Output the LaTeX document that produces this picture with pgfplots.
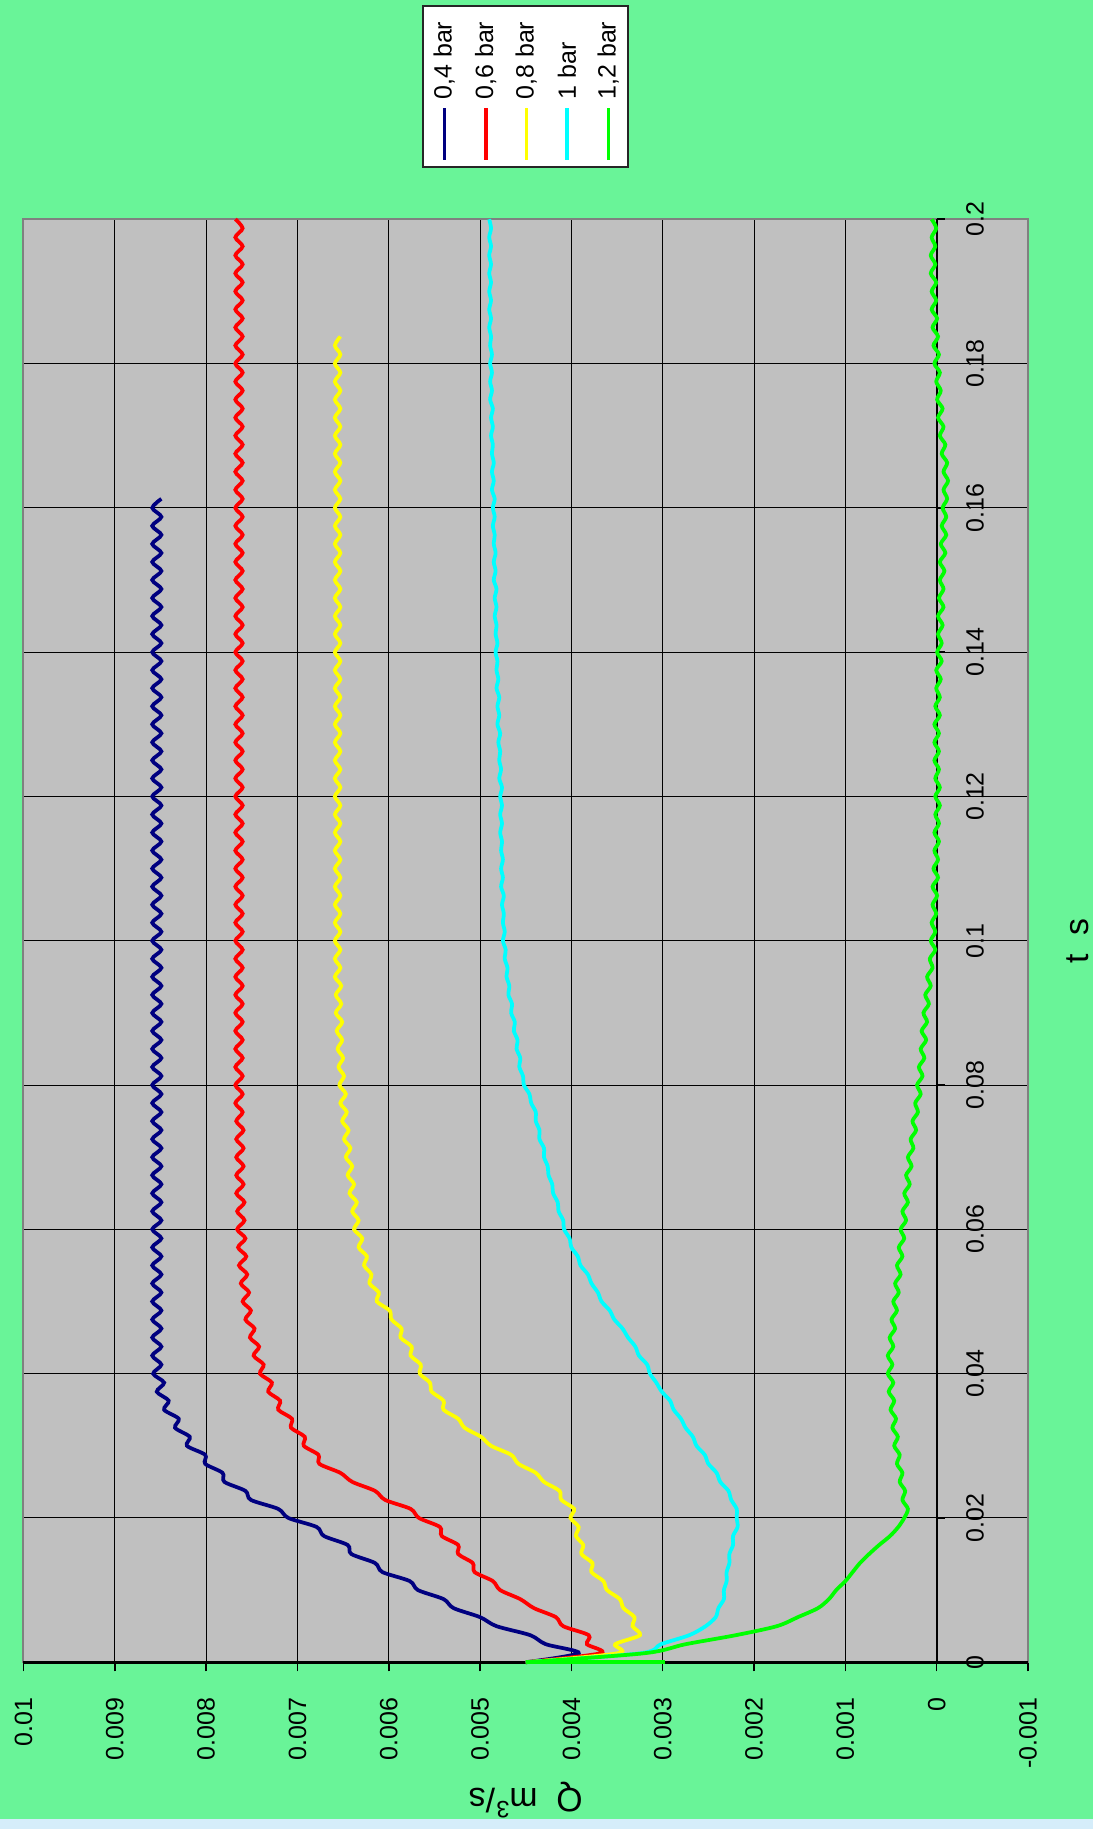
\documentclass[border=0pt]{standalone}
\usepackage{pgfplots}
\pgfplotsset{compat=1.18}
\usepackage{pgfplotstable}
\usepackage{fontspec}
\setmainfont{Liberation Sans}

\definecolor{bggreen}{RGB}{105,244,152}
\definecolor{stripblue}{RGB}{213,237,250}
\definecolor{plotgray}{RGB}{192,192,192}
\definecolor{framegray}{RGB}{128,128,128}
\definecolor{navyline}{RGB}{0,0,128}
\definecolor{redline}{RGB}{255,0,0}
\definecolor{yellowline}{RGB}{255,255,0}
\definecolor{cyanline}{RGB}{0,255,255}
\definecolor{greenline}{RGB}{0,255,0}

% flow rate Q (m^3/s) against time t (s) for the five supply pressures
% b = 0,4 bar, r = 0,6 bar, y = 0,8 bar, c = 1 bar, g = 1,2 bar
\pgfplotstableread{
t b r y c g
0 0.0045 0.0045 0.0045 0.0045 0.0045
0.00125 0.00392 0.00368 0.00349 0.00324 0.0032
0.0025 0.00428 0.00383 0.00352 0.00302 0.00275
0.00375 0.00445 0.00381 0.00325 0.00271 0.0022
0.005 0.00482 0.00409 0.00333 0.00253 0.00175
0.00625 0.005 0.00417 0.00331 0.00242 0.00152
0.0075 0.00529 0.00441 0.00343 0.00239 0.0013
0.00875 0.0054 0.00456 0.00347 0.00233 0.00118
0.01 0.00568 0.00478 0.00361 0.00233 0.0011
0.01125 0.00577 0.00486 0.00365 0.0023 0.001
0.0125 0.00607 0.00506 0.00378 0.0023 0.00092
0.01375 0.00615 0.00508 0.00377 0.00227 0.00084
0.015 0.00641 0.00524 0.00389 0.00227 0.00074
0.01625 0.00645 0.00524 0.00387 0.00223 0.00063
0.0175 0.00671 0.00542 0.00395 0.00223 0.00051
0.01875 0.00679 0.00544 0.00392 0.00218 0.00042
0.02 0.0071 0.00567 0.00401 0.00219 0.000355
0.02125 0.00721 0.00576 0.00397 0.00219 0.000315
0.0225 0.00751 0.00604 0.00411 0.00225 0.000375
0.02375 0.00757 0.00615 0.00413 0.00228 0.000345
0.025 0.0078 0.0064 0.0043 0.00237 0.000405
0.02625 0.00782 0.00653 0.00439 0.00241 0.000375
0.0275 0.00801 0.00676 0.00458 0.0025 0.000435
0.02875 0.00801 0.00677 0.00466 0.00254 0.000405
0.03 0.00821 0.00693 0.00488 0.00263 0.000465
0.03125 0.00818 0.00692 0.00499 0.00267 0.000425
0.0325 0.00834 0.00707 0.00517 0.00275 0.000485
0.03375 0.0083 0.00706 0.00524 0.0028 0.000445
0.035 0.00846 0.00721 0.0054 0.00288 0.000505
0.03625 0.00841 0.00719 0.0054 0.00292 0.000465
0.0375 0.00854 0.00732 0.00553 0.00301 0.000525
0.03875 0.00846 0.00728 0.00555 0.00307 0.000475
0.04 0.00858 0.00741 0.00566 0.00314 0.000535
0.04125 0.00849 0.00737 0.00565 0.00317 0.000485
0.0425 0.00859 0.00748 0.00576 0.00326 0.000535
0.04375 0.00849 0.00742 0.00575 0.0033 0.000475
0.045 0.00859 0.00752 0.00587 0.00338 0.000515
0.04625 0.00849 0.00747 0.00586 0.00344 0.000455
0.0475 0.00859 0.00757 0.00597 0.00353 0.000495
0.04875 0.00849 0.00751 0.00599 0.00358 0.000435
0.05 0.00859 0.0076 0.00613 0.00367 0.000475
0.05125 0.00849 0.00753 0.00611 0.00371 0.000415
0.0525 0.00859 0.00762 0.00621 0.00378 0.000455
0.05375 0.00849 0.00755 0.00619 0.00382 0.000395
0.055 0.00859 0.00764 0.00627 0.0039 0.000435
0.05625 0.00849 0.00756 0.00624 0.00393 0.000375
0.0575 0.00859 0.00765 0.00633 0.004 0.000415
0.05875 0.00849 0.00757 0.00629 0.00402 0.000355
0.06 0.00859 0.00766 0.00638 0.00408 0.000395
0.06125 0.00849 0.00758 0.00633 0.00409 0.000335
0.0625 0.00859 0.00766 0.0064 0.00414 0.000375
0.06375 0.00849 0.00758 0.00635 0.00415 0.000315
0.065 0.00859 0.00767 0.00643 0.0042 0.000355
0.06625 0.00849 0.00759 0.00638 0.00421 0.000295
0.0675 0.00859 0.00767 0.00645 0.00425 0.000335
0.06875 0.00849 0.00759 0.0064 0.00426 0.000275
0.07 0.00859 0.00767 0.00647 0.0043 0.000315
0.07125 0.00849 0.00759 0.00642 0.0043 0.000255
0.0725 0.00859 0.00767 0.00649 0.00435 0.000285
0.07375 0.00849 0.00759 0.00644 0.00435 0.000225
0.075 0.00859 0.00767 0.00651 0.00439 0.000265
0.07625 0.00849 0.0076 0.00646 0.00439 0.000205
0.0775 0.00859 0.00768 0.00653 0.00444 0.000235
0.07875 0.00849 0.0076 0.00647 0.00446 0.000175
0.08 0.00859 0.00768 0.00654 0.00452 0.000215
0.08125 0.00849 0.0076 0.00649 0.00453 0.000155
0.0825 0.00859 0.00768 0.00655 0.00457 0.000195
0.08375 0.00849 0.0076 0.0065 0.00456 0.000135
0.085 0.00859 0.00768 0.00656 0.0046 0.000175
0.08625 0.00849 0.0076 0.00651 0.00459 0.000115
0.0875 0.00859 0.00768 0.00657 0.00463 0.000165
0.08875 0.00849 0.0076 0.00651 0.00462 0.000105
0.09 0.00859 0.00768 0.00658 0.00466 0.000145
0.09125 0.00849 0.0076 0.00652 0.00465 0.000085
0.0925 0.00859 0.00768 0.00658 0.00469 0.000125
0.09375 0.00849 0.0076 0.00652 0.00468 0.000065
0.095 0.00859 0.00768 0.00659 0.00471 0.000105
0.09625 0.00849 0.0076 0.00653 0.0047 0.000045
0.0975 0.00859 0.00768 0.00659 0.00473 0.000075
0.09875 0.00849 0.0076 0.00653 0.00472 0.000015
0.1 0.00859 0.00768 0.00659 0.00475 0.000065
0.10125 0.00849 0.0076 0.00653 0.00473 0.000015
0.1025 0.00859 0.00768 0.00659 0.00475 0.000055
0.10375 0.00849 0.0076 0.00653 0.00474 0.000005
0.105 0.00859 0.00768 0.00659 0.00476 0.000045
0.10625 0.00849 0.0076 0.00653 0.00474 -0.000005
0.1075 0.00859 0.00768 0.00659 0.00477 0.000045
0.10875 0.00849 0.0076 0.00653 0.00475 -0.000015
0.11 0.00859 0.00768 0.00659 0.00477 0.000035
0.11125 0.00849 0.0076 0.00653 0.00475 -0.000015
0.1125 0.00859 0.00768 0.00659 0.00477 0.000025
0.11375 0.00849 0.0076 0.00653 0.00476 -0.000025
0.115 0.00859 0.00768 0.00659 0.00478 0.000025
0.11625 0.00849 0.0076 0.00653 0.00476 -0.000025
0.1175 0.00859 0.00768 0.00659 0.00478 0.000015
0.11875 0.00849 0.0076 0.00653 0.00476 -0.000035
0.12 0.00859 0.00768 0.00659 0.00478 0.000015
0.12125 0.00849 0.0076 0.00653 0.00476 -0.000035
0.1225 0.00859 0.00768 0.00659 0.00479 0.000015
0.12375 0.00849 0.0076 0.00653 0.00477 -0.000025
0.125 0.00859 0.00768 0.00659 0.00479 0.000025
0.12625 0.00849 0.0076 0.00653 0.00478 -0.000025
0.1275 0.00859 0.00768 0.00659 0.0048 0.000025
0.12875 0.00849 0.0076 0.00653 0.00478 -0.000025
0.13 0.00859 0.00768 0.00659 0.00481 0.000025
0.13125 0.00849 0.0076 0.00653 0.00479 -0.000035
0.1325 0.00859 0.00768 0.00659 0.00481 0.000015
0.13375 0.00849 0.0076 0.00653 0.00479 -0.000035
0.135 0.00859 0.00768 0.00659 0.00482 0.000005
0.13625 0.00849 0.0076 0.00653 0.0048 -0.000045
0.1375 0.00859 0.00768 0.00659 0.00482 0.000005
0.13875 0.00849 0.0076 0.00653 0.00481 -0.000055
0.14 0.00859 0.00768 0.00659 0.00483 -0.000005
0.14125 0.00849 0.0076 0.00653 0.00481 -0.000055
0.1425 0.00859 0.00768 0.00659 0.00483 -0.000015
0.14375 0.00849 0.0076 0.00653 0.00482 -0.000065
0.145 0.00859 0.00768 0.00659 0.00484 -0.000015
0.14625 0.00849 0.0076 0.00653 0.00482 -0.000075
0.1475 0.00859 0.00768 0.00659 0.00484 -0.000025
0.14875 0.00849 0.0076 0.00653 0.00482 -0.000075
0.15 0.00859 0.00768 0.00659 0.00485 -0.000035
0.15125 0.00849 0.0076 0.00653 0.00483 -0.000085
0.1525 0.00859 0.00768 0.00659 0.00485 -0.000035
0.15375 0.00849 0.0076 0.00653 0.00483 -0.000095
0.155 0.00859 0.00768 0.00659 0.00485 -0.000045
0.15625 0.00849 0.0076 0.00653 0.00484 -0.000105
0.1575 0.00859 0.00768 0.00659 0.00486 -0.000055
0.15875 0.00849 0.0076 0.00653 0.00484 -0.000105
0.16 0.00859 0.00768 0.00659 0.00486 -0.000065
0.16125 0.00849 0.0076 0.00653 0.00484 -0.000115
0.1625 nan 0.00768 0.00659 0.00487 -0.000075
0.16375 nan 0.0076 0.00653 0.00485 -0.000125
0.165 nan 0.00768 0.00659 0.00487 -0.000075
0.16625 nan 0.0076 0.00653 0.00485 -0.000115
0.1675 nan 0.00768 0.00659 0.00487 -0.000055
0.16875 nan 0.0076 0.00653 0.00486 -0.000095
0.17 nan 0.00768 0.00659 0.00488 -0.000035
0.17125 nan 0.0076 0.00653 0.00486 -0.000075
0.1725 nan 0.00768 0.00659 0.00488 -0.000015
0.17375 nan 0.0076 0.00653 0.00486 -0.000065
0.175 nan 0.00768 0.00659 0.00489 -0.000005
0.17625 nan 0.0076 0.00653 0.00487 -0.000045
0.1775 nan 0.00768 0.00659 0.00489 0.000005
0.17875 nan 0.0076 0.00653 0.00487 -0.000035
0.18 nan 0.00768 0.00659 0.00489 0.000025
0.18125 nan 0.0076 0.00653 0.00487 -0.000025
0.1825 nan 0.00768 0.00659 0.00489 0.000035
0.18375 nan 0.0076 0.00653 0.00488 -0.000015
0.185 nan 0.00768 nan 0.0049 0.000045
0.18625 nan 0.0076 nan 0.00488 -0.000005
0.1875 nan 0.00768 nan 0.0049 0.000055
0.18875 nan 0.0076 nan 0.00488 0.000005
0.19 nan 0.00768 nan 0.0049 0.000055
0.19125 nan 0.0076 nan 0.00488 0.000005
0.1925 nan 0.00768 nan 0.0049 0.000065
0.19375 nan 0.0076 nan 0.00488 0.000015
0.195 nan 0.00768 nan 0.0049 0.000065
0.19625 nan 0.0076 nan 0.00488 0.000015
0.1975 nan 0.00768 nan 0.0049 0.000055
0.19875 nan 0.0076 nan 0.00488 0.000005
0.2 nan 0.00768 nan 0.0049 0.000055
}\flowdata

% the 1,2 bar run first drops along t = 0 before rising
\pgfplotstableread{
t g
0 0.00297
0 0.0045
}\greenstart

\begin{document}
\begin{tikzpicture}
\fill[bggreen] (0pt,0pt) rectangle (437.2pt,731.6pt);
\fill[stripblue] (0pt,0pt) rectangle (437.2pt,4pt);
\useasboundingbox (0pt,0pt) rectangle (437.2pt,731.6pt);
\begin{axis}[
  at={(9.4pt,66.7pt)}, anchor=south west,
  scale only axis, width=401.8pt, height=577.2pt,
  x dir=reverse,
  xmin=-0.001, xmax=0.01, ymin=0, ymax=0.2,
  clip=false,
  scaled x ticks=false, scaled y ticks=false,
  axis background/.style={fill=plotgray},
  axis line style={draw=framegray, line width=0.8pt},
  xtick={-0.001,0,0.001,0.002,0.003,0.004,0.005,0.006,0.007,0.008,0.009,0.01},
  xticklabels={-0.001,0,0.001,0.002,0.003,0.004,0.005,0.006,0.007,0.008,0.009,0.01},
  ytick={0,0.02,0.04,0.06,0.08,0.1,0.12,0.14,0.16,0.18,0.2},
  yticklabel=\empty,
  xtick pos=left, ytick pos=left,
  tick align=outside,
  major tick length=3.6pt,
  xtick style={black, line width=0.6pt},
  ytick style={draw=none},
  xmajorgrids, ymajorgrids,
  major grid style={black, line width=0.4pt},
  xticklabel style={rotate=90, anchor=east, inner sep=0pt, font=\fontsize{10}{12}\selectfont},
  xticklabel shift=10.3pt,
  xlabel={Q~~m\textsuperscript{3}/s},
  xlabel style={at={(axis description cs:0.5,-0.0828)}, anchor=south, rotate=180, inner sep=0pt, font=\fontsize{13.5}{16}\selectfont},
  ylabel={t~~s},
  ylabel style={at={(axis description cs:1.0385,0.5)}, anchor=north, inner sep=0pt, font=\fontsize{13.5}{16}\selectfont},
]
% plot-area frame over the outer grid lines
\draw[framegray, line width=0.8pt] (rel axis cs:0,0) rectangle (rel axis cs:1,1);
% category axis drawn where Q = 0, with its ticks and labels
\draw[black, line width=1pt] (rel axis cs:0,0) -- (rel axis cs:1,0);
\draw[black, line width=0.8pt] (axis cs:0,0) -- (axis cs:0,0.2);
\pgfplotsinvokeforeach{0,0.02,0.04,0.06,0.08,0.1,0.12,0.14,0.16,0.18,0.2}{
  \draw[black, line width=0.6pt] (axis cs:0,#1) -- ++(3.2pt,0pt);
  \node[rotate=90, anchor=north, inner sep=0pt, font=\fontsize{10}{12}\selectfont]
    at ([xshift=11.6pt]axis cs:0,#1) {#1};
}
\addplot[navyline, line width=1.5pt, smooth] table[x=b, y=t] {\flowdata};
\addplot[redline, line width=1.5pt, smooth] table[x=r, y=t] {\flowdata};
\addplot[yellowline, line width=1.5pt, smooth] table[x=y, y=t] {\flowdata};
\addplot[cyanline, line width=1.5pt, smooth] table[x=c, y=t] {\flowdata};
\addplot[greenline, line width=1.5pt] table[x=g, y=t] {\greenstart};
\addplot[greenline, line width=1.5pt, smooth] table[x=g, y=t] {\flowdata};
\end{axis}

% legend box
\draw[black!85, line width=0.8pt, fill=white] (169.3pt,664.7pt) rectangle (251.3pt,729.2pt);
\draw[navyline, line width=1.4pt] (177.7pt,667.6pt) -- (177.7pt,688.3pt);
\draw[redline, line width=1.4pt] (194.3pt,667.6pt) -- (194.3pt,688.3pt);
\draw[yellowline, line width=1.4pt] (210.5pt,667.6pt) -- (210.5pt,688.3pt);
\draw[cyanline, line width=1.4pt] (226.8pt,667.6pt) -- (226.8pt,688.3pt);
\draw[greenline, line width=1.4pt] (243.3pt,667.6pt) -- (243.3pt,688.3pt);
\begin{scope}[every node/.style={rotate=90, anchor=west, inner sep=0pt, font=\fontsize{10}{12}\selectfont}]
\node at (177.7pt,691.6pt) {0,4 bar};
\node at (194.3pt,691.6pt) {0,6 bar};
\node at (210.5pt,691.6pt) {0,8 bar};
\node at (226.8pt,691.6pt) {1 bar};
\node at (243.3pt,691.6pt) {1,2 bar};
\end{scope}
\end{tikzpicture}
\end{document}
